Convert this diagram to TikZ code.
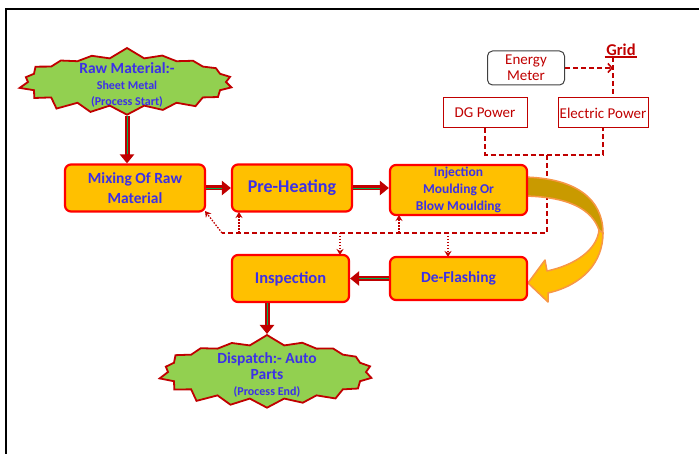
\documentclass[tikz,border=0pt]{standalone}
\usepackage{fontspec}
\setmainfont{Carlito}
\usetikzlibrary{
    arrows.meta,
    shapes.symbols,
    calc
}
\definecolor{boxfill}{HTML}{FFC000}
\definecolor{boxline}{HTML}{FF0000}
\definecolor{txtblue}{HTML}{3C30E8}
\definecolor{darkred}{HTML}{C00000}
\definecolor{stargreen}{HTML}{92D050}
\definecolor{flowgreen}{HTML}{00B050}
\definecolor{bendback}{HTML}{C99A00}
\definecolor{bendline}{HTML}{F79646}
\tikzset{
  process/.style={
    draw=boxline,
    fill=boxfill,
    line width=2.2pt,
    rounded corners=6pt,
    text=txtblue,
    align=center,
    inner sep=1pt,
    font=\bfseries\fontsize{15.5}{20}\selectfont
  },
  burst/.style={
    starburst,
    draw=darkred,
    fill=stargreen,
    line width=1.8pt,
    starburst points=18,
    starburst point height=11pt,
    random starburst=7,
    inner sep=0pt
  },
  bursttext/.style={
    text=txtblue,
    align=center,
    inner sep=0pt,
    font=\bfseries\fontsize{12}{16}\selectfont
  },
  power/.style={
    draw=darkred,
    fill=white,
    line width=1pt,
    text=darkred,
    inner sep=1pt,
    font=\fontsize{15}{16}\selectfont
  },
  flow/.style={
    draw=darkred,
    line width=5pt,
    -{Triangle[length=9pt,width=14pt]},
    postaction={draw=flowgreen, line width=0.9pt, -, shorten >=9pt}
  },
  wire/.style={
    draw=darkred,
    line width=1.6pt,
    dash pattern=on 5pt off 3pt
  },
  feed/.style={
    draw=darkred,
    line width=1.3pt,
    dash pattern=on 1.5pt off 1.5pt,
    -{Stealth[length=6pt,width=7pt]}
  }
}

\begin{document}
\begin{tikzpicture}[x=1pt,y=-1pt]
    \useasboundingbox (0,0) rectangle (699,454);
    \draw[line width=2pt] (5.5,470) |- (710,9);

    %-------------------------
    % power supply
    %-------------------------
    \node[power, rounded corners=5pt, draw=black!75, align=center,
          minimum width=77pt, minimum height=34pt] (meter) at (526,68) {Energy\\Meter};
    \node[text=darkred, anchor=south, inner sep=1.5pt,
          font=\bfseries\fontsize{16.5}{18}\selectfont] (grid) at (621,57) {Grid};
    \node[power, minimum width=84pt, minimum height=30pt] (dg) at (485,113) {DG Power};
    \node[power, minimum width=90pt, minimum height=30pt] (elec) at (603,113) {Electric Power};

    \coordinate (tap) at (613,57);
    \coordinate (bus) at (547,155);
    \coordinate (ret) at (222,233);
    \coordinate (fheat) at (239,233);
    \coordinate (finj) at (399,233);
    \coordinate (finsp) at (340,233);
    \coordinate (fdefl) at (448,233);

    \draw[darkred, line width=1.5pt] (grid.south west) -- (grid.south east);
    \draw[wire] (tap) -- (tap |- elec.north);
    \draw[wire, -{Straight Barb[length=4pt,width=9pt]}] (meter.east) -- (meter.east -| tap);
    \draw[wire] (dg.south) |- (bus) -| (elec.south);
    \draw[wire] (bus) |- (ret);

    \draw[feed] (ret) -- (205,211);
    \draw[feed] (fheat) -- (239,212);
    \draw[feed] (finj) -- (399,215);
    \draw[feed] (finsp) -- (340,255);
    \draw[feed] (fdefl) -- (448,257);

    %-------------------------
    % bent arrow
    %-------------------------
    \filldraw[fill=bendback, draw=bendline, line width=1.5pt]
        (520,177) .. controls (577,177) and (603,200) .. (603,233)
        -- (599,230) .. controls (592,210) and (570,196) .. (520,196) -- cycle;
    \filldraw[fill=boxfill, draw=bendline, line width=1.5pt, line join=round]
        (603,233) .. controls (603,262) and (583,285) .. (548,293)
        -- (548,302) -- (528,283) -- (545,260) -- (547,271)
        .. controls (575,265) and (597,250) .. (599,230) -- cycle;

    %-------------------------
    % process
    %-------------------------
    \node[burst, minimum width=220pt, minimum height=70pt] (raw) at (127,82) {};
    \node[bursttext] (rawtext) at (127,85)
        {{\fontsize{15.5}{16}\selectfont Raw Material:-}\\Sheet Metal\\(Process Start)};
    \node[process, minimum width=140pt, minimum height=47pt] (mix) at (135,188) {Mixing Of Raw\\Material};
    \node[process, minimum width=120pt, minimum height=47pt,
          font=\bfseries\fontsize{18}{20}\selectfont] (heat) at (292,188) {Pre-Heating};
    \node[process, minimum width=137pt, minimum height=50pt,
          font=\bfseries\fontsize{13.5}{17}\selectfont] (inj) at (458.5,190) {Injection\\Moulding Or\\Blow Moulding};
    \node[process, minimum width=137pt, minimum height=43pt] (defl) at (458.5,278.5) {De-Flashing};
    \node[process, minimum width=117pt, minimum height=47pt,
          font=\bfseries\fontsize{16.5}{20}\selectfont] (insp) at (290.5,278.5) {Inspection};
    \node[burst, minimum width=220pt, minimum height=76pt] (disp) at (267,372) {};
    \node[bursttext] (disptext) at (267,375)
        {{\fontsize{15.5}{20}\selectfont Dispatch:- Auto}\\{\fontsize{15.5}{20}\selectfont Parts}\\(Process End)};

    \draw[flow] (raw.south) -- (raw.south |- mix.north);
    \draw[flow] (mix.east) -- (heat.west);
    \draw[flow] (heat.east) -- (heat.east -| inj.west);
    \draw[flow] (defl.west) -- (insp.east);
    \draw[flow] (insp.south -| disp.north) -- (disp.north);

\end{tikzpicture}
\end{document}
